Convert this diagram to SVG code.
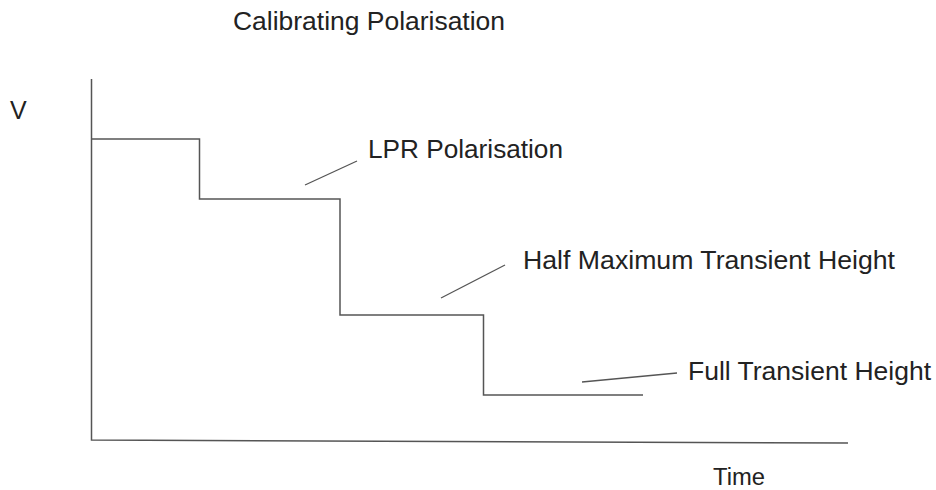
<svg xmlns="http://www.w3.org/2000/svg" width="936" height="490" viewBox="0 0 936 490">
<style>
text{font-family:"Liberation Sans",Arial,sans-serif;font-size:25px;fill:#222}
.ax{stroke:#555;stroke-width:1.5;fill:none}
.ld{stroke:#555;stroke-width:1.3;fill:none}
</style>
<rect width="936" height="490" fill="#fff"/>
<g id="title"><text x="233" y="30" textLength="272" lengthAdjust="spacingAndGlyphs">Calibrating Polarisation</text></g>
<g id="axis-v"><text x="10" y="119">V</text></g>
<g id="axis-time"><text x="713" y="485" style="font-size:23px" textLength="52" lengthAdjust="spacingAndGlyphs">Time</text></g>
<g id="axes">
<path class="ax" d="M91.5,79 V440 L848,443"/>
</g>
<g id="curve">
<path class="ax" d="M91.5,139 H199.5 V199 H340 V315 H483.5 V395 H643"/>
</g>
<g id="label-lpr"><text x="368" y="158" textLength="195" lengthAdjust="spacingAndGlyphs">LPR Polarisation</text></g>
<g id="label-half"><text x="523" y="269" textLength="372" lengthAdjust="spacingAndGlyphs">Half Maximum Transient Height</text></g>
<g id="label-full"><text x="688" y="380" textLength="243" lengthAdjust="spacingAndGlyphs">Full Transient Height</text></g>
<g id="connectors">
<line class="ld" x1="305" y1="185" x2="357" y2="161"/>
<line class="ld" x1="441" y1="298" x2="505" y2="265"/>
<line class="ld" x1="582" y1="382" x2="677" y2="373"/>
</g>
</svg>
